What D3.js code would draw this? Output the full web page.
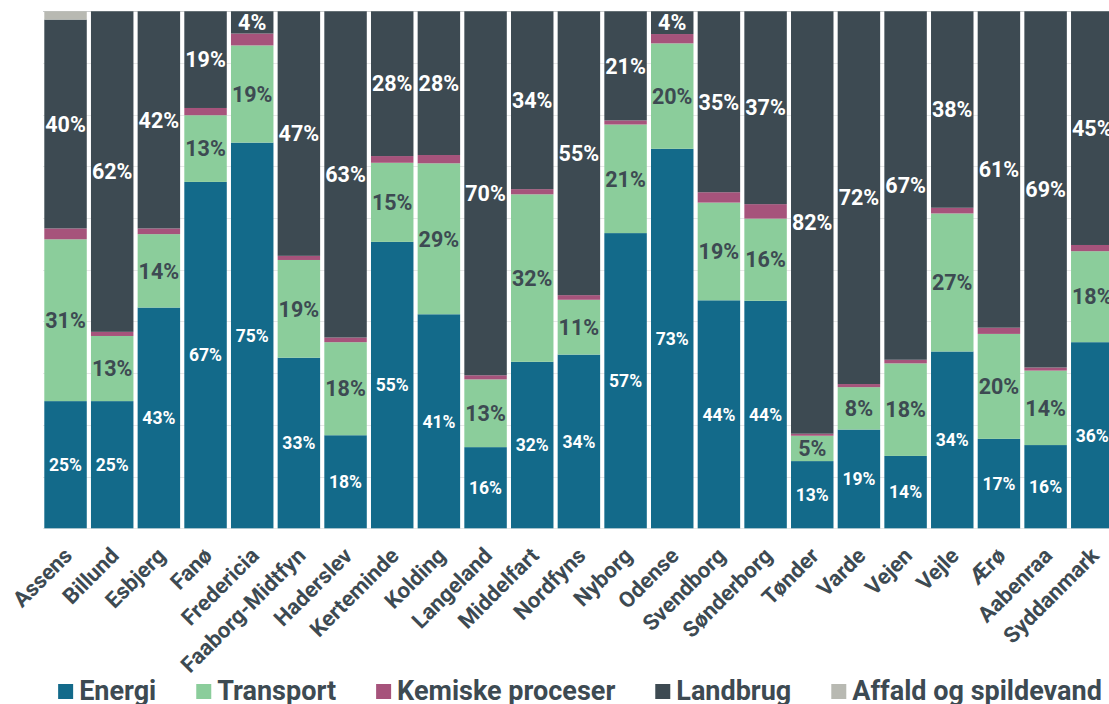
<!DOCTYPE html>
<html>
<head>
<meta charset="utf-8">
<script src="https://cdn.jsdelivr.net/npm/d3@7"></script>
<style>
  html, body { margin: 0; padding: 0; background: #fff; overflow: hidden; }
  svg { display: block; font-family: Roboto, "Noto Sans", sans-serif; }
</style>
</head>
<body>
<svg id="chart" width="1109" height="704"></svg>
<script>
// Greenhouse-gas emissions by sector per municipality, share of total (%)
const categories = ["Assens", "Billund", "Esbjerg", "Fanø", "Fredericia", "Faaborg-Midtfyn",
  "Haderslev", "Kerteminde", "Kolding", "Langeland", "Middelfart", "Nordfyns", "Nyborg",
  "Odense", "Svendborg", "Sønderborg", "Tønder", "Varde", "Vejen", "Vejle", "Ærø",
  "Aabenraa", "Syddanmark"];

const energi    = [24.6, 24.6, 42.7, 67.0, 74.6, 33.0, 18.0, 55.4, 41.4, 15.7, 32.2, 33.6, 57.1, 73.4, 44.1, 44.0, 13.0, 19.1, 14.0, 34.2, 17.3, 16.1, 36.0];
const transport = [31.3, 12.6, 14.2, 12.9, 18.8, 18.9, 18.0, 15.3, 29.2, 13.1, 32.4, 10.6, 21.0, 20.4, 18.9, 15.9, 4.9, 8.2, 17.9, 26.7, 20.3, 14.4, 17.6];
const kemiske   = [2.1, 0.8, 1.1, 1.4, 2.3, 0.8, 0.9, 1.3, 1.6, 0.8, 1.0, 0.9, 0.8, 1.8, 2.0, 2.8, 0.4, 0.6, 0.7, 1.1, 1.2, 0.6, 1.2];
const landbrug  = [40.4, 62.0, 42.0, 18.7, 4.3, 47.3, 63.1, 28.0, 27.8, 70.4, 34.4, 54.9, 21.1, 4.4, 35.0, 37.3, 81.7, 72.1, 67.4, 38.0, 61.2, 68.9, 45.2];
const affald    = [1.6, 0, 0, 0, 0, 0, 0, 0, 0, 0, 0, 0, 0, 0, 0, 0, 0, 0, 0, 0, 0, 0, 0];

const seriesNames = ["Energi", "Transport", "Kemiske proceser", "Landbrug", "Affald og spildevand"];
const seriesKeys = ["energi", "transport", "kemiske", "landbrug", "affald"];
const gridTicks = [0, 10, 20, 30, 40, 50, 60, 70, 80, 90, 100];

const colors = {
  energi: "#136a8a", transport: "#8bcd9b", kemiske: "#a6537b",
  landbrug: "#3d4a52", affald: "#b8b9b2"
};
const labelColor = { energi: "#ffffff", transport: "#3d4a52", landbrug: "#ffffff" };
const labelSize = { energi: 17.5, transport: 21.5, landbrug: 21.5 };
const textDark = "#3d4a52";

const rows = categories.map((c, i) => ({
  name: c, energi: energi[i], transport: transport[i], kemiske: kemiske[i],
  landbrug: landbrug[i], affald: affald[i]
}));

const svg = d3.select("#chart");
const plot = { left: 44.3, right: 1113.5, top: 11.3, bottom: 528.3 };

const x = d3.scaleBand().domain(categories)
  .range([plot.left, plot.right]).paddingInner(0.09).paddingOuter(0);
const y = d3.scaleLinear().domain([0, 100]).range([plot.bottom, plot.top]);

// gridlines
svg.append("g").selectAll("line").data(gridTicks).join("line")
  .attr("x1", 43).attr("x2", 1109)
  .attr("y1", d => Math.round(y(d)) + 0.5).attr("y2", d => Math.round(y(d)) + 0.5)
  .attr("stroke", d => d === 100 ? "#c9cccd" : "#e7e8e8")
  .attr("stroke-width", 1);

const stack = d3.stack().keys(seriesKeys)(rows);

const layers = svg.append("g").selectAll("g").data(stack).join("g")
  .attr("fill", d => colors[d.key]);

layers.selectAll("rect").data(d => d).join("rect")
  .attr("x", d => x(d.data.name))
  .attr("width", x.bandwidth())
  .attr("y", d => y(d[1]))
  .attr("height", d => Math.max(0, y(d[0]) - y(d[1])));

// value labels
const labelled = stack.filter(s => labelColor[s.key]);
const lab = svg.append("g").attr("text-anchor", "middle").attr("font-weight", 700);
labelled.forEach(s => {
  lab.selectAll(null).data(s.filter(d => d[1] - d[0] >= 3)).join("text")
    .attr("x", d => x(d.data.name) + x.bandwidth() / 2)
    .attr("y", d => y((d[0] + d[1]) / 2))
    .attr("dy", "0.36em")
    .attr("fill", labelColor[s.key])
    .attr("font-size", labelSize[s.key])
    .text(d => Math.round(d.data[s.key]) + "%");
});

// category labels
const xAxis = svg.append("g");
xAxis.selectAll("text").data(categories).join("text")
  .attr("transform", d => `translate(${x(d) + x.bandwidth() / 2 + 8},557) rotate(-45)`)
  .attr("text-anchor", "end")
  .attr("font-weight", 700)
  .attr("font-size", 22)
  .attr("fill", textDark)
  .text(d => d);

// legend
const legend = svg.append("g");
const items = legend.selectAll("g").data(seriesKeys).join("g");
items.append("rect").attr("width", 15).attr("height", 15).attr("y", 684)
  .attr("fill", d => colors[d]);
items.append("text").attr("x", 21).attr("y", 700)
  .attr("font-weight", 700).attr("font-size", 27).attr("fill", textDark)
  .text((d, i) => seriesNames[i]);
const widths = [];
items.each(function () {
  const w = d3.select(this).select("text").node().getComputedTextLength();
  widths.push(21 + w);
});
const gap = 40;
const total = d3.sum(widths) + gap * (widths.length - 1);
let start = 580 - total / 2;
items.attr("transform", (d, i) => {
  const t = `translate(${start},0)`;
  start += widths[i] + gap;
  return t;
});
</script>
</body>
</html>
